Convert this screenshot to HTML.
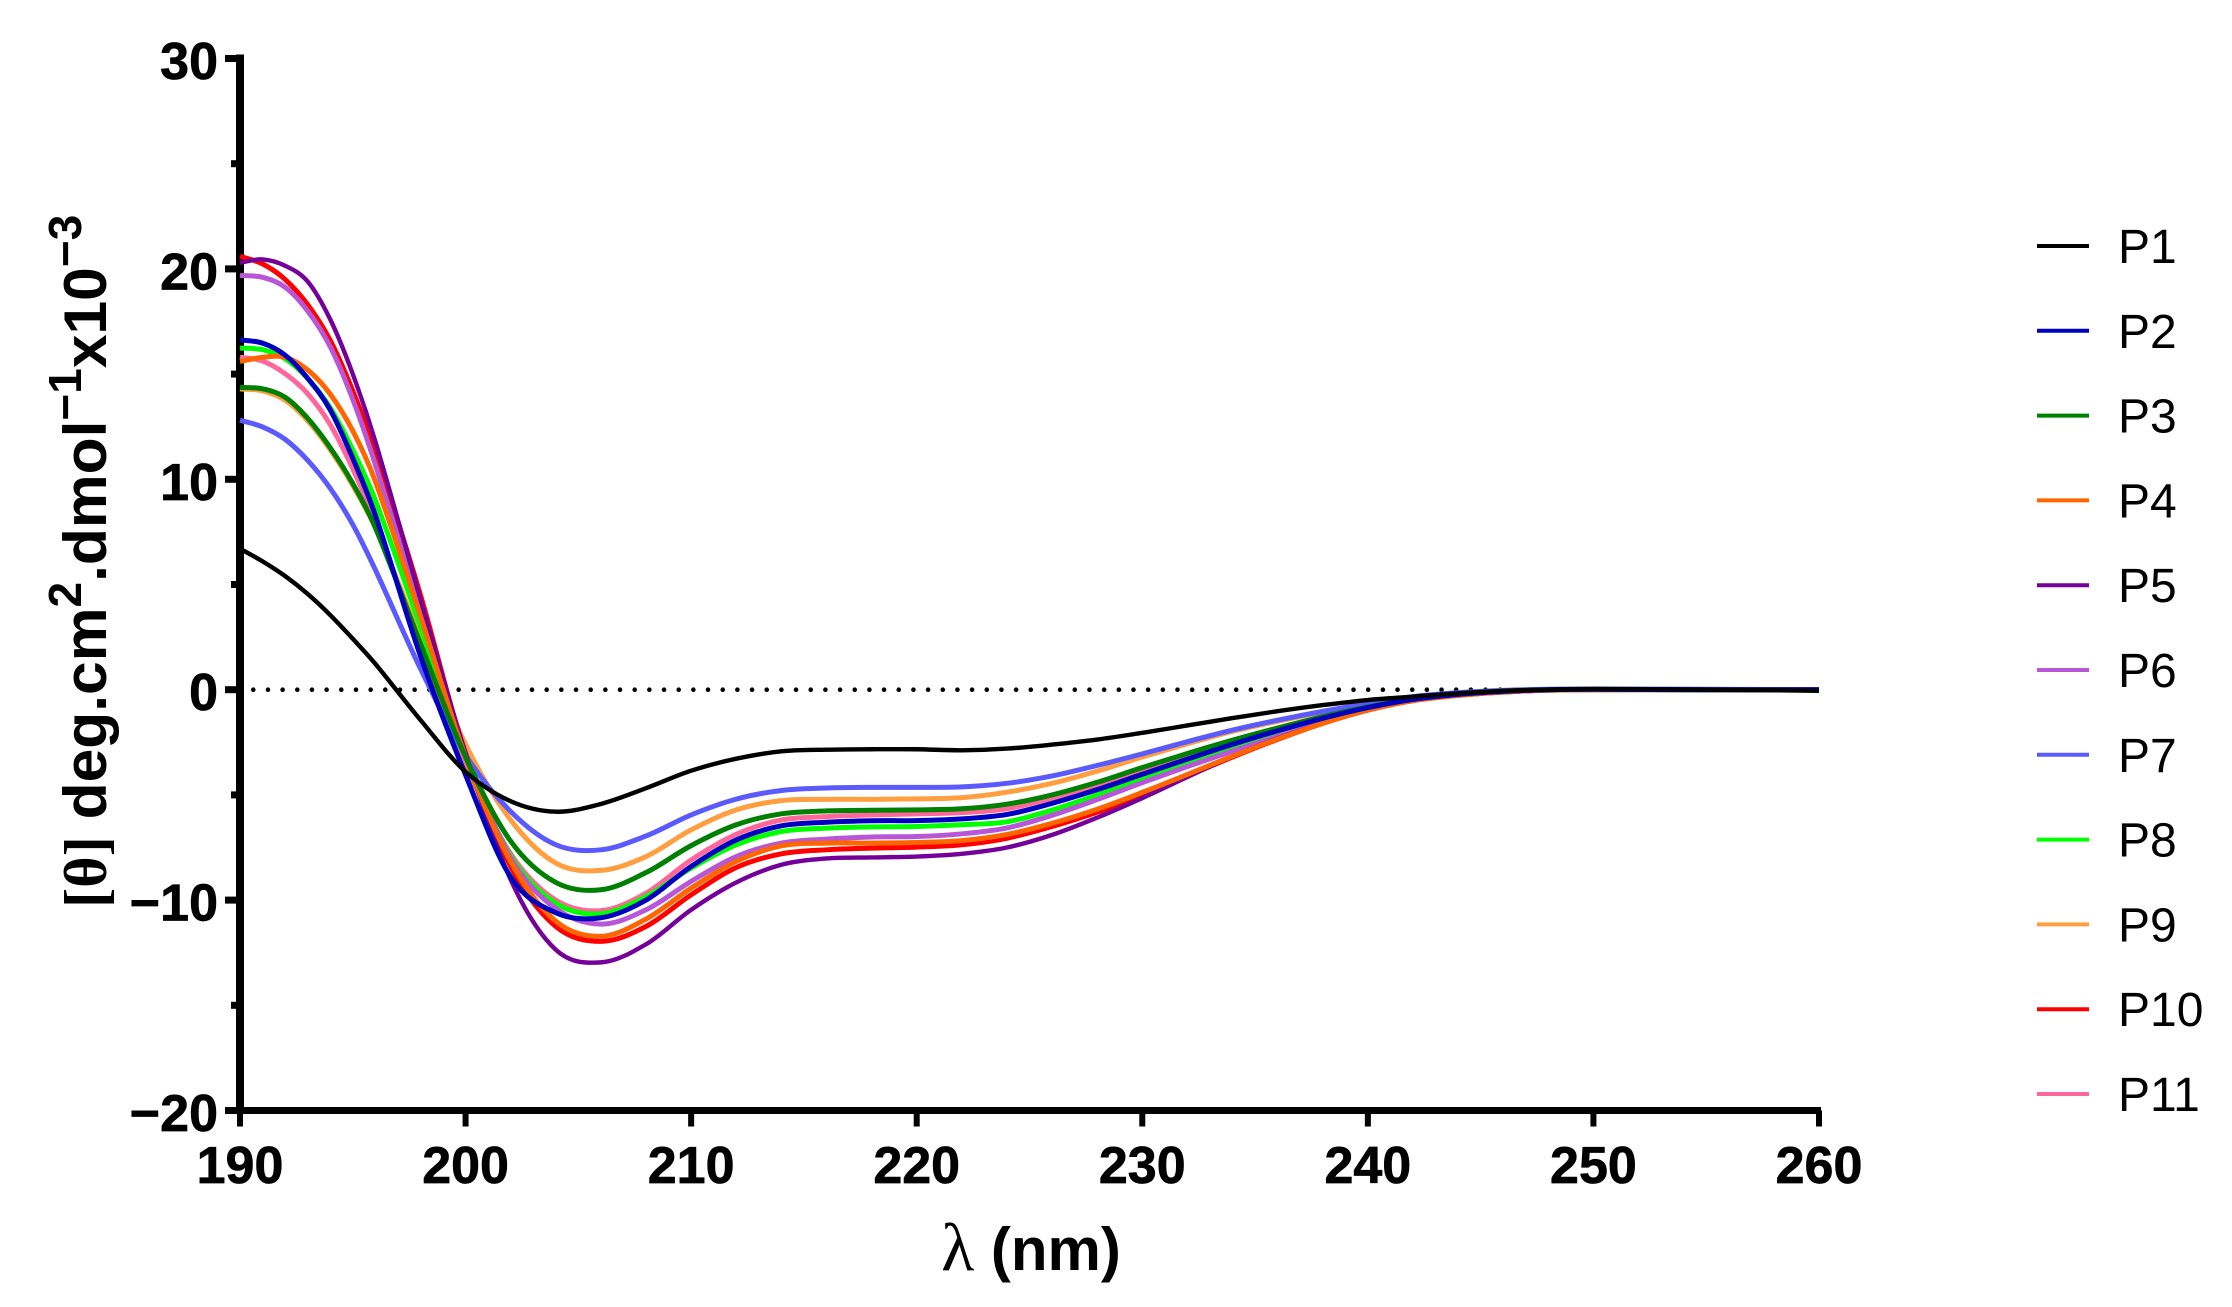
<!DOCTYPE html>
<html lang="en">
<head>
<meta charset="utf-8">
<title>CD spectra P1–P11</title>
<style>
html,body{margin:0;padding:0;background:#fff;}
svg{display:block;}
text{font-family:"Liberation Sans",Arial,sans-serif;fill:#000;}
.tick{font-weight:bold;font-size:52px;stroke:#000;stroke-width:0.7px;}
.leg{font-size:48px;}
.ttl{font-weight:bold;}
</style>
</head>
<body>
<svg id="chart" xmlns="http://www.w3.org/2000/svg" width="2232" height="1307" viewBox="0 0 2232 1307">
  <rect x="0" y="0" width="2232" height="1307" fill="#fff"/>
  <g id="axes"></g>
  <g id="marks"></g>
  <g id="legend"></g>
  <text class="ttl" transform="translate(106,908) rotate(-90)" font-size="60.5"><tspan font-family="Liberation Serif" font-size="60.5">[θ]</tspan> deg.cm<tspan font-size="46" dy="-25">2</tspan><tspan dy="25">.dmol</tspan><tspan font-size="46" dy="-25">−1</tspan><tspan dy="25">x10</tspan><tspan font-size="46" dy="-25">−3</tspan></text>
  <text class="ttl" x="1031" y="1270" font-size="60" text-anchor="middle"><tspan font-family="Liberation Serif" font-weight="normal" font-size="68">λ</tspan> (nm)</text>
</svg>
<script>
const wavelengths = [190,191,192,193,194,195,196,198,200,202,204,206,208,210,212,214,216,218,220,222,224,226,228,230,232,234,236,238,240,242,244,246,248,250,255,260];
const seriesP1 = [6.7,6.1,5.4,4.55,3.55,2.42,1.23,-1.44,-3.9,-5.3,-5.8,-5.43,-4.68,-3.85,-3.28,-2.93,-2.85,-2.83,-2.83,-2.88,-2.8,-2.61,-2.37,-2.05,-1.7,-1.35,-1.02,-0.73,-0.49,-0.33,-0.17,-0.06,0,0.03,0,-0.05];
const seriesP2 = [16.63,16.47,15.9,14.8,13.3,11,8.3,1.6,-4.05,-8.9,-10.6,-10.84,-10,-8.4,-7.14,-6.47,-6.3,-6.23,-6.22,-6.14,-5.93,-5.4,-4.75,-4.02,-3.3,-2.6,-1.95,-1.36,-0.85,-0.46,-0.22,-0.08,0,0.02,0,0];
const seriesP3 = [14.37,14.3,13.9,12.9,11.5,9.8,7.7,2.2,-3.2,-7.2,-9.16,-9.51,-8.69,-7.41,-6.42,-5.9,-5.76,-5.73,-5.71,-5.66,-5.44,-5,-4.4,-3.7,-3.03,-2.4,-1.82,-1.28,-0.82,-0.43,-0.2,-0.06,0,0.02,0,0];
const seriesP4 = [15.6,15.8,15.8,15.2,14.05,12.3,9.9,3.5,-3.2,-8.17,-11,-11.72,-10.9,-9.43,-8.16,-7.42,-7.29,-7.29,-7.26,-7.17,-6.88,-6.35,-5.68,-4.88,-4.03,-3.16,-2.34,-1.6,-0.97,-0.52,-0.27,-0.11,-0.02,0,0,0];
const seriesP5 = [20.3,20.45,20.15,19.4,17.6,15,11.8,4.3,-3,-9.03,-12.36,-12.96,-12.1,-10.46,-9.16,-8.32,-8.02,-7.97,-7.93,-7.8,-7.5,-6.9,-6.08,-5.15,-4.15,-3.17,-2.31,-1.58,-0.97,-0.52,-0.25,-0.13,-0.02,0,0,0];
const seriesP6 = [19.69,19.6,19.13,18,16.3,13.8,10.7,3.7,-3,-8,-10.4,-11.14,-10.46,-9.11,-7.93,-7.29,-7.1,-7,-6.98,-6.85,-6.57,-5.97,-5.22,-4.42,-3.65,-2.92,-2.22,-1.57,-0.97,-0.5,-0.24,-0.1,-0.02,0,0,0];
const seriesP7 = [12.81,12.49,11.9,10.9,9.57,7.85,5.7,1,-3.1,-5.79,-7.37,-7.61,-6.95,-5.95,-5.2,-4.79,-4.67,-4.64,-4.64,-4.62,-4.45,-4.1,-3.6,-3.05,-2.47,-1.92,-1.45,-1.03,-0.66,-0.33,-0.14,-0.03,0.02,0.03,0.02,0];
const seriesP8 = [16.24,16.16,15.73,14.8,13.4,11.4,9,3,-3.2,-7.9,-10.15,-10.65,-9.83,-8.48,-7.37,-6.74,-6.58,-6.52,-6.5,-6.42,-6.28,-5.72,-5,-4.22,-3.47,-2.79,-2.14,-1.5,-0.93,-0.48,-0.23,-0.09,-0.01,0.01,0,0];
const seriesP9 = [14.3,14.2,13.76,12.78,11.4,9.7,7.7,2.5,-2.6,-6.19,-8.24,-8.59,-7.93,-6.66,-5.71,-5.27,-5.21,-5.21,-5.19,-5.13,-4.87,-4.45,-3.87,-3.2,-2.57,-1.98,-1.5,-1.06,-0.68,-0.36,-0.17,-0.05,0.01,0.02,0.01,0];
const seriesP10 = [20.6,20.24,19.5,18.3,16.6,14.2,11.3,4.5,-3.1,-8.4,-11.25,-11.96,-11.25,-9.75,-8.45,-7.8,-7.61,-7.53,-7.48,-7.37,-7.06,-6.5,-5.82,-4.98,-4.1,-3.2,-2.36,-1.6,-0.97,-0.52,-0.27,-0.11,-0.02,0,0,0];
const seriesP11 = [15.81,15.62,15.02,14.07,12.6,10.5,8,2,-3.5,-7.8,-10,-10.5,-9.67,-8.09,-6.87,-6.19,-6.03,-5.95,-5.9,-5.84,-5.66,-5.15,-4.52,-3.82,-3.12,-2.47,-1.87,-1.31,-0.81,-0.44,-0.21,-0.07,0,0.01,0,0];
const seriesNames = ["P1","P2","P3","P4","P5","P6","P7","P8","P9","P10","P11"];
const seriesColors = ["#000000","#0000C0","#008000","#FF6600","#750099","#B856D8","#5A5AFF","#00FF00","#FF9F40","#FF0000","#FF6699"];
const xTickLabels = [190,200,210,220,230,240,250,260];
const yTickLabels = [30,20,10,0,-10,-20];
const yMinorTicks = [25,15,5,-5,-15];

const allSeries = [seriesP1,seriesP2,seriesP3,seriesP4,seriesP5,seriesP6,seriesP7,seriesP8,seriesP9,seriesP10,seriesP11];
const NS = "http://www.w3.org/2000/svg";
const X0 = 240, X1 = 1819, Y0 = 1110.5, Y1 = 58.5;
function xScale(v){ return X0 + (v - 190) * (X1 - X0) / 70; }
function yScale(v){ return Y0 - (v + 20) * (Y0 - Y1) / 50; }
function mk(parent, tag, attrs){
  const el = document.createElementNS(NS, tag);
  for (const k in attrs) el.setAttribute(k, attrs[k]);
  parent.appendChild(el);
  return el;
}
function smoothPath(xs, ys){
  let d = "M" + xScale(xs[0]).toFixed(2) + " " + yScale(ys[0]).toFixed(2);
  for (let i = 0; i < xs.length - 1; i++){
    const a = Math.max(i - 1, 0), b = i, c = i + 1, e = Math.min(i + 2, xs.length - 1);
    const px = [xs[a],xs[b],xs[c],xs[e]].map(xScale);
    const py = [ys[a],ys[b],ys[c],ys[e]].map(yScale);
    const h = px[2] - px[1];
    const m1 = (py[2] - py[0]) / ((px[2] - px[0]) || 1);
    const m2 = (py[3] - py[1]) / ((px[3] - px[1]) || 1);
    d += "C" + (px[1] + h / 3).toFixed(2) + " " + (py[1] + m1 * h / 3).toFixed(2) + " " +
         (px[2] - h / 3).toFixed(2) + " " + (py[2] - m2 * h / 3).toFixed(2) + " " +
         px[2].toFixed(2) + " " + py[2].toFixed(2);
  }
  return d;
}

const axes = document.getElementById("axes");
const yLine = mk(axes, "rect", {x: X0 - 4, y: Y1 - 4, width: 8, height: Y0 - Y1 + 7.5, fill: "#000"});


const xLine = mk(axes, "rect", {x: X0 - 15, y: Y0 - 3.5, width: X1 - X0 + 17, height: 7, fill: "#000"});



const zeroLine = mk(axes, "line", {x1: xScale(190) - 1.4, x2: X1, y1: yScale(0), y2: yScale(0), stroke: "#000", "stroke-width": 4.6, "stroke-linecap": "round", "stroke-dasharray": "0 14.67"});



yTickLabels.forEach(function(v){
  const t = mk(axes, "rect", {x: X0 - 15, y: yScale(v) - 3.5, width: 12, height: 7, fill: "#000"});
  
  
  const l = mk(axes, "text", {x: 218, y: yScale(v) + 20.5, "text-anchor": "end", "class": "tick"});
  
  
  l.textContent = String(v).replace("-", "−");
});
yMinorTicks.forEach(function(v){
  const t = mk(axes, "rect", {x: X0 - 9, y: yScale(v) - 3.5, width: 6, height: 7, fill: "#000"});
  
  
});
xTickLabels.forEach(function(v){
  const t = mk(axes, "rect", {x: xScale(v) - 3, y: Y0, width: 6, height: 16, fill: "#000"});
  
  
  const l = mk(axes, "text", {x: xScale(v), y: 1183, "text-anchor": "middle", "class": "tick"});
  
  
  l.textContent = v;
});

const marks = document.getElementById("marks");
for (let i = allSeries.length - 1; i >= 0; i--){
  const p = mk(marks, "path", {d: smoothPath(wavelengths, allSeries[i]), fill: "none", stroke: seriesColors[i], "stroke-width": (i === 0 || i === 4) ? 4.4 : 5, "stroke-linejoin": "round"});
  
  
}

const legend = document.getElementById("legend");
seriesNames.forEach(function(name, i){
  const y = 246 + i * 84.8;
  const s = mk(legend, "line", {x1: 2037, x2: 2089, y1: y, y2: y, stroke: seriesColors[i], "stroke-width": 4});
  
  
  const t = mk(legend, "text", {x: 2118, y: y + 17, "class": "leg"});
  
  
  t.textContent = name;
});
</script>
</body>
</html>
